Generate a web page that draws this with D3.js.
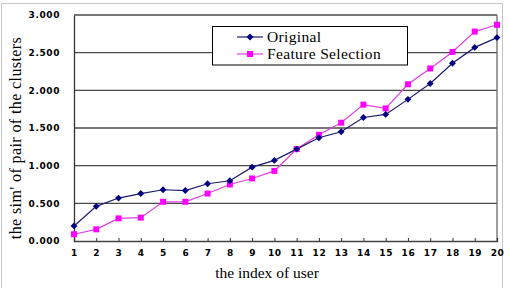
<!DOCTYPE html>
<html>
<head>
<meta charset="UTF-8">
<script src="https://d3js.org/d3.v7.min.js"></script>
<style>
  body { margin: 0; background: #fff; }
  svg { display: block; }
  .tick text { font-family: "DejaVu Sans", sans-serif; font-weight: bold; font-size: 9px; letter-spacing: 0.6px; fill: #000; }
  .ttl { font-family: "Liberation Serif", "Times New Roman", serif; font-size: 15.5px; fill: #000; }
</style>
</head>
<body>
<svg id="chart" width="509" height="288"></svg>
<script>
const users = d3.range(1, 21);
const original = [0.20, 0.46, 0.57, 0.63, 0.68, 0.67, 0.76, 0.80, 0.98, 1.07,
                  1.22, 1.37, 1.45, 1.64, 1.68, 1.88, 2.09, 2.36, 2.57, 2.70];
const featureSel = [0.09, 0.155, 0.30, 0.31, 0.52, 0.52, 0.63, 0.75, 0.83, 0.93,
                    1.22, 1.41, 1.57, 1.81, 1.76, 2.08, 2.29, 2.51, 2.78, 2.87];
const yTicks = [0, 0.5, 1, 1.5, 2, 2.5, 3];

const svg = d3.select("#chart");
const pLeft = 74, pRight = 497, pTop = 15, pBottom = 241;

// outer dotted frame
svg.append("rect")
  .attr("x", 1.5).attr("y", 3.5).attr("width", 501).attr("height", 300)
  .attr("fill", "none").attr("stroke", "#8a8a8a").attr("stroke-dasharray", "1,1");

const x = d3.scalePoint().domain(users).range([pLeft, pRight]);
const y = d3.scaleLinear().domain([0, 3]).range([pBottom, pTop]);

// grid
svg.append("g").selectAll("line")
  .data(yTicks.slice(1)).join("line")
  .attr("x1", pLeft).attr("x2", pRight)
  .attr("y1", d => y(d)).attr("y2", d => y(d))
  .attr("stroke", "#4a4a4a").attr("stroke-width", 1.3);

svg.append("line")
  .attr("x1", pRight).attr("x2", pRight).attr("y1", pTop).attr("y2", pBottom)
  .attr("stroke", "#6a6a6a").attr("stroke-width", 1.3);

// axes
const yAxis = svg.append("g")
  .attr("transform", `translate(${pLeft},0)`)
  .call(d3.axisLeft(y).tickValues(yTicks).tickSize(0).tickPadding(14).tickFormat(d3.format(".3f")));
yAxis.select(".domain").attr("stroke", "#333").attr("stroke-width", 1.3);

const xAxis = svg.append("g")
  .attr("transform", `translate(0,${pBottom})`)
  .call(d3.axisBottom(x).tickSize(-3).tickPadding(9));
xAxis.select(".domain").attr("stroke", "#444").attr("stroke-width", 1.3);
xAxis.selectAll(".tick line").attr("stroke", "#333");

// lines
const line = d3.line().x((d, i) => x(users[i])).y(d => y(d));

svg.append("path").datum(featureSel)
  .attr("d", line).attr("fill", "none").attr("stroke", "#e040e0").attr("stroke-width", 1.2);
svg.append("path").datum(original)
  .attr("d", line).attr("fill", "none").attr("stroke", "#1a1a6e").attr("stroke-width", 1.2);

const diamond = d3.symbol().type(d3.symbolDiamond2).size(30);
const square = d3.symbol().type(d3.symbolSquare).size(36);

svg.append("g").selectAll("path")
  .data(featureSel).join("path")
  .attr("d", square)
  .attr("transform", (d, i) => `translate(${x(users[i])},${y(d)})`)
  .attr("fill", "#ff00ff");
svg.append("g").selectAll("path")
  .data(original).join("path")
  .attr("d", diamond)
  .attr("transform", (d, i) => `translate(${x(users[i])},${y(d)})`)
  .attr("fill", "#000080");

// legend
const lg = svg.append("g");
lg.append("rect").attr("x", 212.5).attr("y", 26.5).attr("width", 195).attr("height", 38.5)
  .attr("fill", "#fff").attr("stroke", "#000").attr("stroke-width", 1);
const items = [
  { name: "Original", color: "#1a1a6e", mark: "#000080", sym: diamond, yy: 37 },
  { name: "Feature Selection", color: "#e040e0", mark: "#ff00ff", sym: square, yy: 54 }
];
items.forEach(it => {
  lg.append("line").attr("x1", 237).attr("x2", 263).attr("y1", it.yy).attr("y2", it.yy)
    .attr("stroke", it.color).attr("stroke-width", 1.2);
  lg.append("path").attr("d", it.sym).attr("transform", `translate(250,${it.yy})`).attr("fill", it.mark);
  lg.append("text").attr("class", "ttl").attr("x", 267).attr("y", it.yy + 5)
    .style("letter-spacing", "0.35px").text(it.name);
});

// titles
svg.append("text").attr("class", "ttl")
  .attr("transform", "translate(21,138) rotate(-90)")
  .style("font-size", "16px").style("letter-spacing", "0.4px")
  .attr("text-anchor", "middle").text("the sim' of pair of the clusters");
svg.append("text").attr("class", "ttl")
  .attr("x", 267).attr("y", 278).attr("text-anchor", "middle").text("the index of user");
</script>
</body>
</html>
